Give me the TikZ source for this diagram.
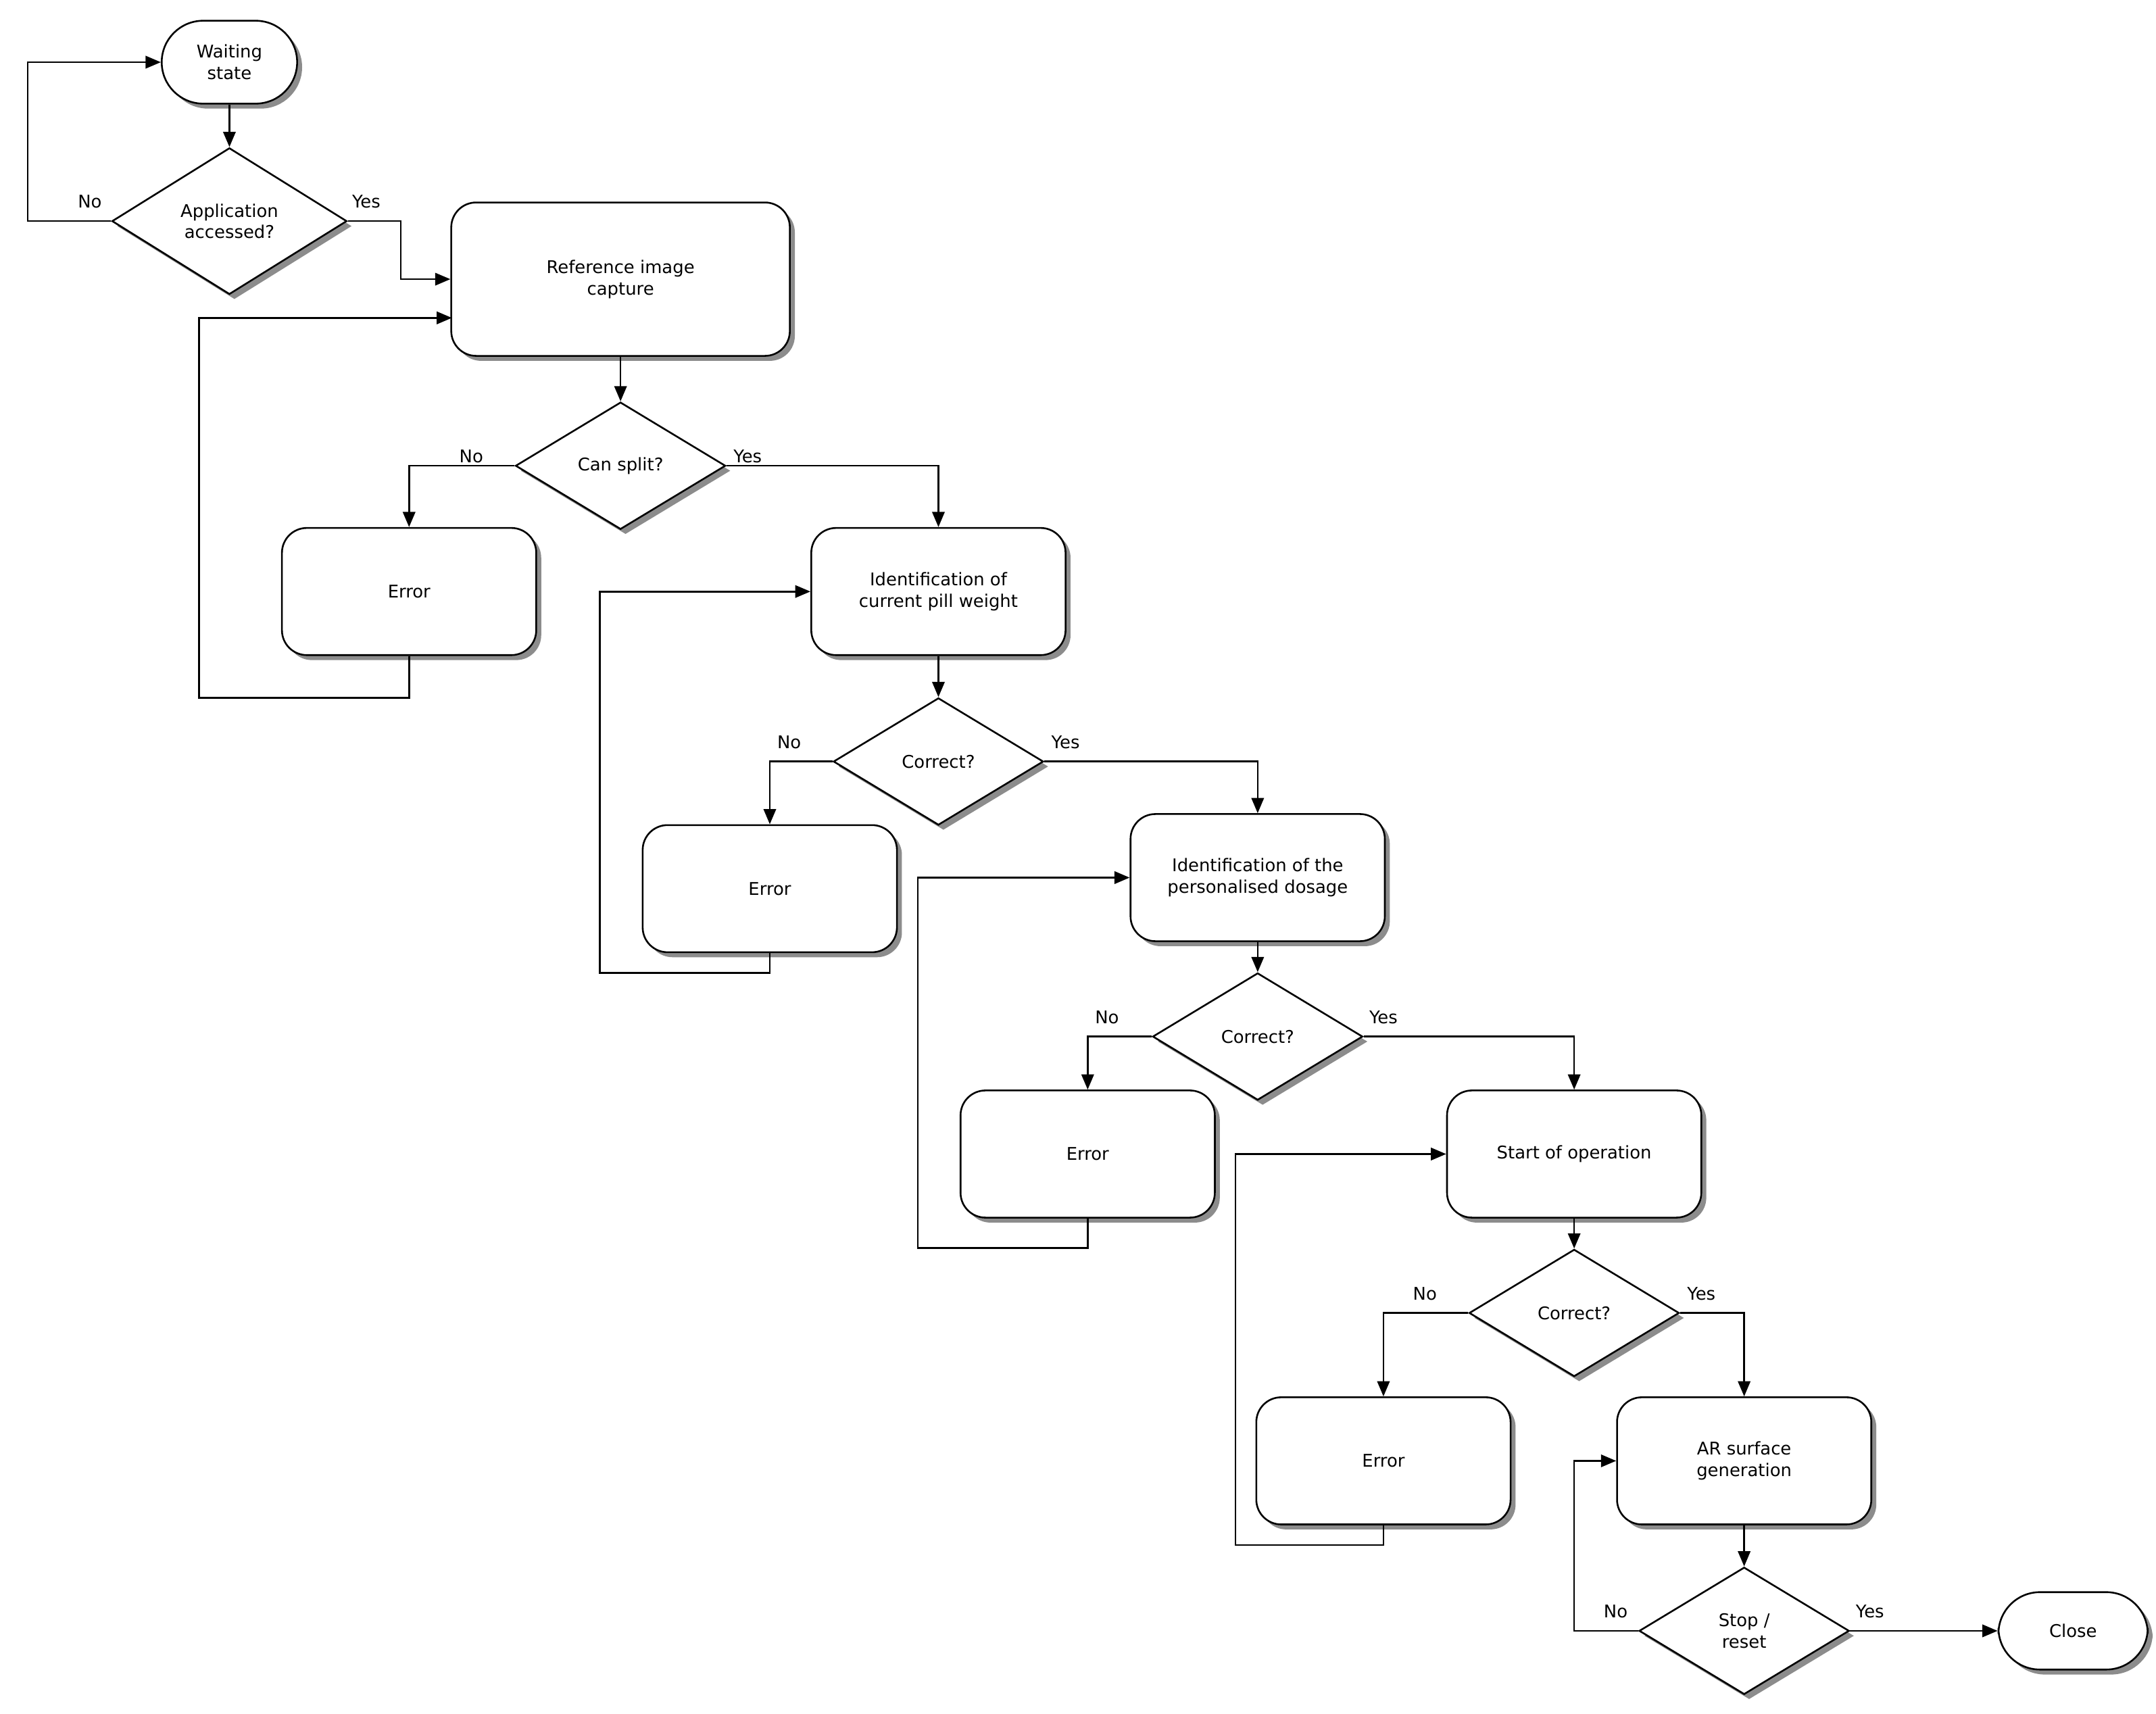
\documentclass[tikz,border=0pt]{standalone}
\usepackage{fontspec}
\setmainfont{DejaVu Sans}
\usetikzlibrary{shapes.geometric,shadows,arrows.meta}
\begin{document}
\begin{tikzpicture}[x=0.05cm,y=-0.05cm,
  font=\fontsize{18}{22}\selectfont,
  every path/.style={line width=1.8pt},
  sh/.style={drop shadow={shadow xshift=0.18cm,shadow yshift=-0.18cm,fill=black!45,opacity=1}},
  box/.style={draw,fill=white,rounded corners=0.9cm,minimum width=9.2cm,minimum height=4.6cm,align=center,sh,line width=1.8pt},
  dec/.style={draw,fill=white,diamond,minimum width=7.6cm,minimum height=4.6cm,inner sep=0pt,align=center,sh,line width=1.8pt},
  term/.style={draw,fill=white,rounded corners=1.5cm,align=center,sh,line width=1.8pt},
  arr/.style={-{Triangle[length=0.55cm,width=0.45cm]}},
  lab/.style={inner sep=0pt}]
\useasboundingbox (0,0) rectangle (1560,1240);
\node[term,minimum width=4.9cm,minimum height=3cm] (w) at (166,45) {Waiting\\state};
\node[dec,minimum width=8.5cm,minimum height=5.3cm] (d0) at (166,160) {Application\\accessed?};
\node[box,minimum width=12.25cm,minimum height=5.55cm] (ref) at (449,202) {Reference image\\capture};
\node[dec] (d1) at (449,337) {Can split?};
\node[box] (e1) at (296,428) {Error};
\node[box] (p1) at (679,428) {Identification of\\current pill weight};
\node[dec] (d2) at (679,551) {Correct?};
\node[box] (e2) at (557,643) {Error};
\node[box] (p2) at (910,635) {Identification of the\\personalised dosage};
\node[dec] (d3) at (910,750) {Correct?};
\node[box] (e3) at (787,835) {Error};
\node[box] (p3) at (1139,835) {Start of operation};
\node[dec] (d4) at (1139,950) {Correct?};
\node[box] (e4) at (1001,1057) {Error};
\node[box] (p4) at (1262,1057) {AR surface\\generation};
\node[dec] (d5) at (1262,1180) {Stop /\\reset};
\node[term,minimum width=5.4cm,minimum height=2.8cm] (cl) at (1500,1180) {Close};

\draw[arr] (w) -- (d0);
\draw[arr] (d0.west) -- (20,160) |- (w.west);
\draw[arr] (d0.east) -- (290,160) |- (ref.west);
\draw[arr] (ref) -- (d1);
\draw[arr] (d1.west) -| (e1.north);
\draw[arr] (d1.east) -| (p1.north);
\draw[arr] (e1.south) |- (144,505) |- (327,230);
\draw[arr] (p1) -- (d2);
\draw[arr] (d2.west) -| (e2.north);
\draw[arr] (d2.east) -| (p2.north);
\draw[arr] (e2.south) |- (434,704) |- (p1.west);
\draw[arr] (p2) -- (d3);
\draw[arr] (d3.west) -| (e3.north);
\draw[arr] (d3.east) -| (p3.north);
\draw[arr] (e3.south) |- (664,903) |- (p2.west);
\draw[arr] (p3) -- (d4);
\draw[arr] (d4.west) -| (e4.north);
\draw[arr] (d4.east) -| (p4.north);
\draw[arr] (e4.south) |- (894,1118) |- (p3.west);
\draw[arr] (p4) -- (d5);
\draw[arr] (d5.west) -- (1139,1180) |- (p4.west);
\draw[arr] (d5.east) -- (cl.west);

\node[lab] (l0n) at (65,146) {No};
\node[lab] (l0y) at (265,146) {Yes};
\node[lab] (l1n) at (341,330) {No};
\node[lab] (l1y) at (541,330) {Yes};
\node[lab] (l2n) at (571,537) {No};
\node[lab] (l2y) at (771,537) {Yes};
\node[lab] (l3n) at (801,736) {No};
\node[lab] (l3y) at (1001,736) {Yes};
\node[lab] (l4n) at (1031,936) {No};
\node[lab] (l4y) at (1231,936) {Yes};
\node[lab] (l5n) at (1169,1166) {No};
\node[lab] (l5y) at (1353,1166) {Yes};
\end{tikzpicture}
\end{document}
